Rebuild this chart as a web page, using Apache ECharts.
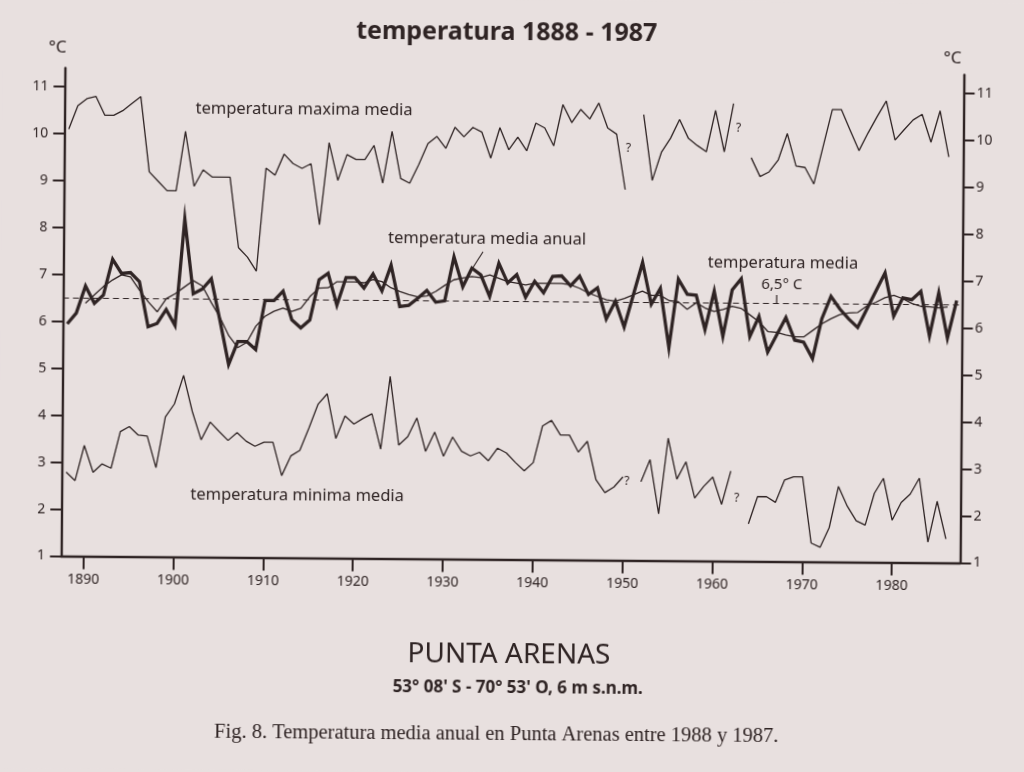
<!DOCTYPE html>
<html>
<head>
<meta charset="utf-8">
<title>temperatura 1888 - 1987</title>
<script src="https://cdn.jsdelivr.net/npm/echarts@6.0.0/dist/echarts.min.js"></script>
<style>
  html, body { margin: 0; padding: 0; background: #e8e0df; }
  /* the scan is slightly tilted, so is the chart */
  #chart { width: 1024px; height: 772px; transform: rotate(0.44deg); }
</style>
</head>
<body>
<div id="chart"></div>
<script>
// years 1888 - 1987
const years = [
  1888, 1889, 1890, 1891, 1892, 1893, 1894, 1895, 1896, 1897,
  1898, 1899, 1900, 1901, 1902, 1903, 1904, 1905, 1906, 1907,
  1908, 1909, 1910, 1911, 1912, 1913, 1914, 1915, 1916, 1917,
  1918, 1919, 1920, 1921, 1922, 1923, 1924, 1925, 1926, 1927,
  1928, 1929, 1930, 1931, 1932, 1933, 1934, 1935, 1936, 1937,
  1938, 1939, 1940, 1941, 1942, 1943, 1944, 1945, 1946, 1947,
  1948, 1949, 1950, 1951, 1952, 1953, 1954, 1955, 1956, 1957,
  1958, 1959, 1960, 1961, 1962, 1963, 1964, 1965, 1966, 1967,
  1968, 1969, 1970, 1971, 1972, 1973, 1974, 1975, 1976, 1977,
  1978, 1979, 1980, 1981, 1982, 1983, 1984, 1985, 1986, 1987
]

// temperatura maxima media
const maxMedia = [
  10.1, 10.6, 10.75, 10.8, 10.4, 10.4, 10.5, 10.65, 10.8, 9.2,
  9.0, 8.8, 8.8, 10.07, 8.9, 9.25, 9.1, 9.1, 9.1, 7.6,
  7.4, 7.1, 9.3, 9.15, 9.6, 9.4, 9.3, 9.4, 8.1, 9.85,
  9.05, 9.6, 9.5, 9.5, 9.8, 9.0, 10.1, 9.1, 9.0, 9.4,
  9.85, 10.0, 9.75, 10.2, 10.0, 10.2, 10.1, 9.55, 10.2, 9.73,
  10.0, 9.71, 10.3, 10.2, 9.82, 10.7, 10.32, 10.6, 10.4, 10.74,
  10.21, 10.08, 8.9, null, 10.5, 9.1, 9.7, 10.0, 10.4, 10.0,
  9.85, 9.72, 10.6, 9.72, 10.75, null, 9.6, 9.2, 9.3, 9.55,
  10.12, 9.43, 9.4, 9.05, 9.85, 10.64, 10.64, 10.2, 9.77, 10.15,
  10.5, 10.83, 10.0, 10.22, 10.43, 10.55, 9.96, 10.63, 9.65, null
]

// temperatura media anual
const mediaAnual = [
  5.95, 6.18, 6.76, 6.39, 6.57, 7.33, 7.03, 7.05, 6.86, 5.9,
  5.97, 6.27, 5.93, 8.2, 6.61, 6.71, 6.93, 6.04, 5.11, 5.6,
  5.6, 5.43, 6.48, 6.48, 6.68, 6.07, 5.9, 6.07, 6.93, 7.07,
  6.39, 6.98, 6.98, 6.76, 7.06, 6.7, 7.25, 6.37, 6.4, 6.55,
  6.72, 6.47, 6.5, 7.44, 6.8, 7.2, 7.06, 6.6, 7.31, 6.89,
  7.07, 6.59, 6.93, 6.69, 7.04, 7.05, 6.84, 7.05, 6.66, 6.8,
  6.14, 6.52, 5.97, null, 7.35, 6.46, 6.8, 5.54, 7.0, 6.68,
  6.66, 5.93, 6.75, 5.79, 6.78, 7.02, 5.79, 6.22, 5.46, 5.83,
  6.2, 5.72, 5.68, 5.33, 6.18, 6.66, 6.39, 6.18, 6.0, 6.39,
  6.78, 7.17, 6.25, 6.64, 6.6, 6.78, 5.83, 6.75, 5.79, 6.59
]

// linea suavizada de la media anual
const mediaSuavizada = [
  null, null, 6.39, 6.57, 6.75, 6.89, 7.0, 6.96, 6.68, 6.43,
  6.22, 6.5, 6.61, 6.75, 6.89, 6.78, 6.43, 6.11, 5.72, 5.47,
  5.58, 5.93, 6.14, 6.25, 6.32, 6.25, 6.32, 6.57, 6.75, 6.76,
  6.89, 6.89, 6.89, 6.87, 6.94, 6.9, 6.77, 6.69, 6.63, 6.58,
  6.6, 6.7, 6.83, 6.95, 6.99, 7.02, 7.0, 7.06, 6.99, 6.92,
  6.89, 6.85, 6.89, 6.89, 6.89, 6.89, 6.86, 6.79, 6.69, 6.62,
  6.55, 6.52, 6.58, 6.66, 6.74, 6.65, 6.65, 6.54, 6.52, 6.36,
  6.5, 6.39, 6.32, 6.36, 6.43, 6.39, 6.25, 6.11, 5.9, 5.88,
  5.83, 5.79, 5.79, 5.93, 6.07, 6.18, 6.27, 6.31, 6.32, 6.46,
  6.54, 6.64, 6.69, 6.62, 6.52, 6.46, 6.45, 6.43, 6.45, null
]

// temperatura minima media
const minMedia = [
  2.79, 2.61, 3.36, 2.79, 2.97, 2.88, 3.66, 3.77, 3.59, 3.57,
  2.9, 3.98, 4.26, 4.87, 4.1, 3.5, 3.88, 3.68, 3.49, 3.66,
  3.48, 3.37, 3.46, 3.46, 2.75, 3.17, 3.29, 3.77, 4.28, 4.5,
  3.55, 4.03, 3.86, 3.98, 4.08, 3.33, 4.88, 3.42, 3.6, 4.0,
  3.29, 3.7, 3.19, 3.6, 3.3, 3.2, 3.28, 3.1, 3.37, 3.27,
  3.07, 2.89, 3.07, 3.85, 3.97, 3.66, 3.66, 3.3, 3.53, 2.71,
  2.44, 2.56, 2.78, null, 2.68, 3.15, 2.0, 3.61, 2.74, 3.11,
  2.34, 2.59, 2.79, 2.21, 2.92, null, 1.8, 2.38, 2.38, 2.26,
  2.74, 2.81, 2.81, 1.4, 1.31, 1.73, 2.61, 2.19, 1.88, 1.79,
  2.47, 2.79, 1.9, 2.28, 2.46, 2.8, 1.44, 2.31, 1.51, null
]

const mediaGeneral = 6.5
const yearTicks = [1890, 1900, 1910, 1920, 1930, 1940, 1950, 1960, 1970, 1980]
const tempTicks = [1, 2, 3, 4, 5, 6, 7, 8, 9, 10, 11]

const ink = '#2f2424'
const font = '"Noto Sans", "DejaVu Sans", sans-serif'

const pairs = values => years.map((y, i) => [y, values[i] === null ? '-' : values[i]])

function tempAxis(position, margin) {
  return {
    type: 'value',
    position,
    min: 1,
    max: 11.4,
    interval: 1,
    axisLine: { show: true, onZero: false, lineStyle: { color: ink, width: 2.4 } },
    axisTick: { show: true, length: 11, customValues: tempTicks, lineStyle: { color: ink, width: 2 } },
    axisLabel: {
      customValues: tempTicks, margin, color: ink, fontSize: 14, fontFamily: font,
      formatter: v => String(v)
    },
    splitLine: { show: false }
  }
}

function text(x, y, str, size, extra) {
  return {
    type: 'text', x, y,
    style: Object.assign({
      text: str, fill: ink, fontSize: size, fontFamily: font,
      align: 'center', verticalAlign: 'middle'
    }, extra || {})
  }
}

const thin = { color: ink, width: 1.3 }

const option = {
  backgroundColor: '#e8e0df',
  animation: false,
  grid: { left: 62.3, right: 62.6, top: 71.4, bottom: 212.5, outerBoundsMode: 'none' },
  xAxis: {
    type: 'value',
    min: 1887.5,
    max: 1987.6,
    axisLine: { onZero: false, lineStyle: { color: ink, width: 2.4 } },
    axisTick: { length: 13, customValues: yearTicks, lineStyle: { color: ink, width: 2 } },
    axisLabel: {
      customValues: yearTicks, margin: 17, color: ink, fontSize: 14, fontFamily: font,
      formatter: v => String(v)
    },
    splitLine: { show: false }
  },
  yAxis: [tempAxis('left', 16), tempAxis('right', 13)],
  series: [
    {
      name: 'temperatura maxima media', type: 'line', data: pairs(maxMedia),
      showSymbol: false, lineStyle: thin, connectNulls: false
    },
    {
      name: 'media suavizada', type: 'line', data: pairs(mediaSuavizada),
      showSymbol: false, lineStyle: thin, connectNulls: false
    },
    {
      name: 'temperatura media anual', type: 'line', data: pairs(mediaAnual),
      showSymbol: false, connectNulls: true,
      lineStyle: { color: ink, width: 3.3, join: 'miter' },
      markLine: {
        silent: true,
        symbol: ['none', 'none'],
        label: { show: false },
        lineStyle: { color: ink, width: 1.2, type: [6, 4] },
        data: [{ yAxis: mediaGeneral }]
      }
    },
    {
      name: 'temperatura minima media', type: 'line', data: pairs(minMedia),
      showSymbol: false, lineStyle: thin, connectNulls: false
    }
  ],
  graphic: [
    text(504, 33, 'temperatura 1888 - 1987', 25, { fontWeight: 'bold' }),
    text(55, 51, '°C', 17),
    text(950, 55, '°C', 17),
    text(302, 111, 'temperatura maxima media', 16.5),
    text(486, 239, 'temperatura media anual', 16.5),
    text(782, 261, 'temperatura media', 16.5),
    text(781, 283, '6,5° C', 15),
    text(298, 497, 'temperatura minima media', 16.5),
    { type: 'line', shape: { x1: 776, y1: 293, x2: 776, y2: 301 }, style: { stroke: ink, lineWidth: 1.2 } },
    { type: 'line', shape: { x1: 482, y1: 252, x2: 467.5, y2: 275 }, style: { stroke: ink, lineWidth: 1.1 } },
    text(626.5, 147.5, '?', 12),
    text(736.5, 127, '?', 12),
    text(627.5, 481, '?', 12),
    text(737.5, 497, '?', 12),
    text(511, 655, 'PUNTA ARENAS', 28),
    text(520, 688, "53° 08' S - 70° 53' O, 6 m s.n.m.", 17, { fontWeight: 'bold' }),
    text(499, 735, 'Fig. 8. Temperatura media anual en Punta Arenas entre 1988 y 1987.', 20.5,
      { fontFamily: '"Liberation Serif", "DejaVu Serif", serif' })
  ]
}

const chart = echarts.init(document.getElementById('chart'), null, { renderer: 'canvas' })
chart.setOption(option)
window.addEventListener('resize', () => chart.resize())
</script>
</body>
</html>
